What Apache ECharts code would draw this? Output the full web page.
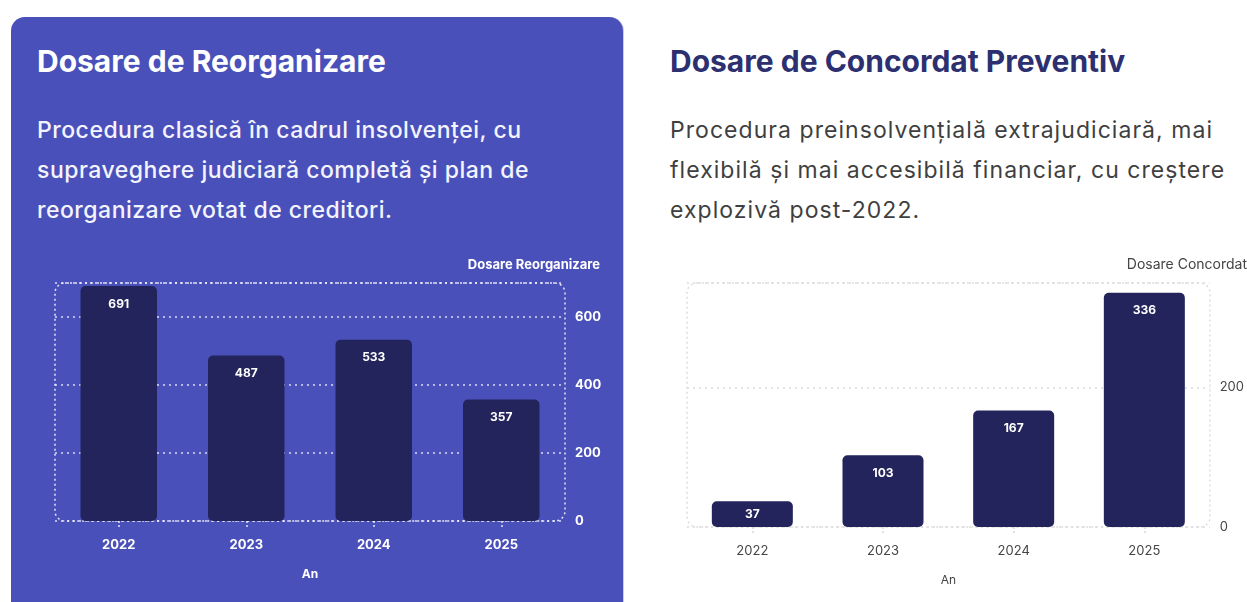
<!DOCTYPE html>
<html lang="ro">
<head>
<meta charset="utf-8">
<script src="https://cdn.jsdelivr.net/npm/echarts@6/dist/echarts.min.js"></script>
<style>
  html, body { margin: 0; padding: 0; background: #ffffff; width: 1247px; height: 602px; overflow: hidden; font-family: Inter, "Noto Sans", sans-serif; }
  .card { position: absolute; left: 11px; top: 17px; width: 612px; height: 640px; background: #4a50b9; border-radius: 14px; box-shadow: 1px 0 0 #c9cbee; }
  .title { position: absolute; top: 46px; margin: 0; font-size: 30px; line-height: 30px; font-weight: 700; letter-spacing: 0; white-space: nowrap; }
  .desc { position: absolute; top: 110px; margin: 0; font-size: 23px; line-height: 40px; white-space: nowrap; }
  #t1 { left: 37px; color: #ffffff; }
  #d1 { left: 37px; color: #f4f4ff; font-weight: 500; letter-spacing: 0.5px; }
  #t2 { left: 670px; color: #2c3070; }
  #d2 { left: 670px; color: #3f3f3f; font-weight: 400; letter-spacing: 1.05px; }
  #chart { position: absolute; left: 0; top: 0; width: 1247px; height: 602px; }
</style>
</head>
<body>
<div class="card"></div>
<h2 class="title" id="t1">Dosare de Reorganizare</h2>
<p class="desc" id="d1">Procedura clasică în cadrul insolvenței, cu<br>supraveghere judiciară completă și plan de<br>reorganizare votat de creditori.</p>
<h2 class="title" id="t2">Dosare de Concordat Preventiv</h2>
<p class="desc" id="d2">Procedura preinsolvențială extrajudiciară, mai<br>flexibilă și mai accesibilă financiar, cu creștere<br>explozivă post-2022.</p>
<div id="chart"></div>
<script>
// Yearly case counts
const years = ['2022', '2023', '2024', '2025'];
const reorgCounts = [691, 487, 533, 357];
const concordatCounts = [37, 103, 167, 336];
const reorgAxisName = 'Dosare Reorganizare';
const concordatAxisName = 'Dosare Concordat';
const xAxisName = 'An';

const barColor = '#23245c';
const font = 'Inter, "Noto Sans", sans-serif';

// Short bars get their value centred instead of pinned to the top
function barData(values, minForTop) {
  return values.map(v => v < minForTop
    ? { value: v, label: { position: 'inside', distance: 0 } }
    : v);
}

const chart = echarts.init(document.getElementById('chart'), null, { renderer: 'canvas' });

function xAxisFor(gridIndex, color, weight) {
  return {
    type: 'category', gridIndex, data: years,
    name: xAxisName, nameLocation: 'middle', nameGap: 47,
    nameTextStyle: { color, fontSize: 12, fontWeight: weight, fontFamily: font },
    axisLine: { show: false },
    axisTick: { show: true, alignWithLabel: true, length: 6, lineStyle: { color: gridIndex === 0 ? 'rgba(255,255,255,0.85)' : '#d6d6d6', type: [2, 2], width: 1.5 } },
    axisLabel: { color, fontSize: 13, fontWeight: weight, fontFamily: font, margin: 18 }
  };
}

function yAxisFor(gridIndex, max, color, weight, splitColor) {
  return {
    type: 'value', gridIndex, position: 'right', min: 0, max, interval: 200,
    axisLine: { show: false }, axisTick: { show: false },
    axisLabel: { color, fontSize: 13, fontWeight: weight, fontFamily: font, margin: 10, showMaxLabel: false },
    splitLine: { show: true, lineStyle: { color: splitColor, type: [2, 4], width: 1.5 } }
  };
}

function barSeries(idx, values, width, minForTop) {
  return {
    type: 'bar', xAxisIndex: idx, yAxisIndex: idx,
    data: barData(values, minForTop),
    barWidth: width,
    itemStyle: { color: barColor, borderRadius: 5 },
    label: { show: true, position: 'insideTop', distance: 12, color: '#ffffff', fontSize: 12, fontWeight: 700, fontFamily: font },
    animation: false
  };
}

chart.setOption({
  backgroundColor: 'transparent',
  animation: false,
  grid: [
    { left: 55, right: 682, top: 283, bottom: 81 },
    { left: 687, right: 37, top: 283, bottom: 75 }
  ],
  xAxis: [
    xAxisFor(0, '#ffffff', 700),
    xAxisFor(1, '#444444', 400)
  ],
  yAxis: [
    yAxisFor(0, 700, '#ffffff', 700, 'rgba(255,255,255,0.8)'),
    yAxisFor(1, 350, '#444444', 400, '#dcdcdc')
  ],
  series: [
    barSeries(0, reorgCounts, '60%', 0),
    barSeries(1, concordatCounts, '62%', 60)
  ],
  graphic: [
    // rounded dotted frames around the plot areas
    { type: 'rect', silent: true, z: 0, shape: { x: 55, y: 283, width: 510, height: 238, r: 10 },
      style: { fill: 'none', stroke: 'rgba(255,255,255,0.85)', lineWidth: 1.5, lineDash: [2, 3] } },
    { type: 'rect', silent: true, z: 0, shape: { x: 687, y: 283, width: 523, height: 244, r: 10 },
      style: { fill: 'none', stroke: '#dedede', lineWidth: 1.5, lineDash: [2, 3] } },
    // value axis titles
    { type: 'text', silent: true, x: 600, y: 265,
      style: { text: reorgAxisName, fill: '#ffffff', font: '700 13px ' + font, align: 'right', verticalAlign: 'middle' } },
    { type: 'text', silent: true, x: 1247, y: 265,
      style: { text: concordatAxisName, fill: '#444444', font: '400 14px ' + font, align: 'right', verticalAlign: 'middle' } }
  ]
});
</script>
</body>
</html>
